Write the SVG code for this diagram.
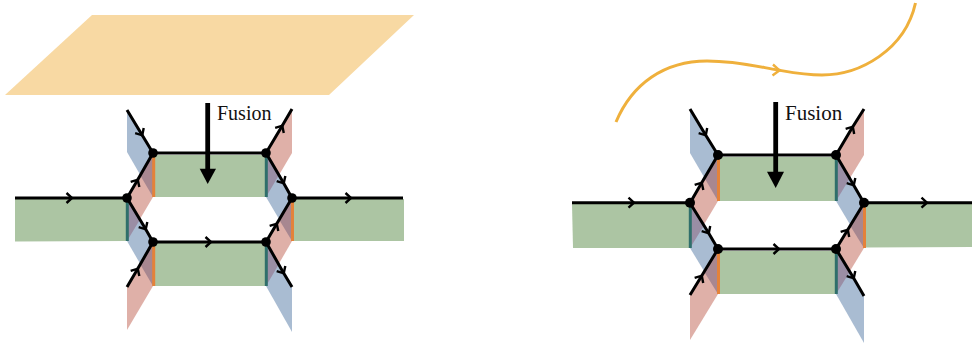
<svg xmlns="http://www.w3.org/2000/svg" width="972" height="344" viewBox="0 0 972 344">
<style>
.g{fill:#acc5a3}
.b{fill:#a9bcd2}
.p{fill:#dfb0a8}
.xp{fill:#a88790}
.xb{fill:#9a8ea5}
.o{stroke:#e4823a;stroke-width:3;fill:none}
.t{stroke:#2f6f6b;stroke-width:3;fill:none}
.e{stroke:#000;stroke-width:3;fill:none;marker-mid:url(#chev)}
.n{fill:#000}
.big{stroke:#000;stroke-width:4.8;fill:none}
.lab{font-family:"Liberation Serif","Times New Roman",serif;fill:#111}
</style>
<defs>
<marker id="chev" viewBox="-7 -7 14 14" markerWidth="14" markerHeight="14" markerUnits="userSpaceOnUse" refX="0" refY="0" orient="auto">
<path d="M-4 -5 L1.500 0 L-4 5" fill="none" stroke="#000" stroke-width="2.400"/>
</marker>
</defs>
<rect width="972" height="344" fill="#fff"/>
<g id="fusion-plane"><polygon points="92,15 414,15 329,95 5,95" fill="#f8d9a3"/></g>
<path id="fusion-line" d="M616 122 C632 84 664 61 707 61 C735 61 755 66 778 70 C795 73 805 75 822 75 C860 75 905 50 915.500 3" fill="none" stroke="#efb03c" stroke-width="3"/>
<path d="M773 64.500 L779.500 70.300 L772.500 75.500" fill="none" stroke="#efb03c" stroke-width="2.400"/>

<g id="left-web">
<polygon class="g" points="15,199 127,199 127,241 15,241.500"/>
<polygon class="g" points="153,155 266,155 266,197 153,197"/>
<polygon class="g" points="153,243 266,243 266,286 153,286"/>
<polygon class="g" points="292,199 404,199 404,241 292,241"/>
<polygon class="b" points="127,110 153,153 153,197 127,152"/>
<polygon class="p" points="127,198 153,153 153,197 127,241"/>
<polygon class="xp" points="153,153 153,197 140,175"/>
<polygon class="b" points="127,198 153,242 153,286 127,241"/>
<polygon class="xb" points="127,198 127,241 140,219.500"/>
<polygon class="p" points="127,287 153,242 153,286 127,330"/>
<polygon class="xp" points="153,242 153,286 140,264"/>
<polygon class="p" points="292,109 266,153 266,197 292,153"/>
<polygon class="b" points="266,153 292,198 292,241 266,197"/>
<polygon class="xb" points="266,153 266,197 279,175"/>
<polygon class="p" points="292,198 266,242 266,286 292,241"/>
<polygon class="xp" points="292,198 292,241 279,219.500"/>
<polygon class="b" points="266,242 292,287 292,332 266,286"/>
<polygon class="xb" points="266,242 266,286 279,264"/>
<path class="o" d="M153.700 155V197M153.700 243V286M292.500 199V241"/>
<path class="t" d="M127.300 199V241M266.300 155V197M266.300 243V286"/>
</g>
<g id="left-connectors">
<polyline class="e" points="15,198 70.500,198 127,198"/>
<polyline class="e" points="292,198 349.500,198 403,198"/>
<polyline class="e" points="153,242 209.500,242 266,242"/>
<polyline class="e" points="153,153 266,153"/>
<polyline class="e" points="127,110 141.500,134 153,153"/>
<polyline class="e" points="266,153 281.500,127 292,109"/>
<polyline class="e" points="127,198 137,181 153,153"/>
<polyline class="e" points="266,153 283,182 292,198"/>
<polyline class="e" points="127,198 145,228 153,242"/>
<polyline class="e" points="266,242 276,225 292,198"/>
<polyline class="e" points="127,287 137,270 153,242"/>
<polyline class="e" points="266,242 283,272 292,287"/>
</g>
<g id="left-vertices">
<circle class="n" cx="153" cy="153" r="4.800"/><circle class="n" cx="266" cy="153" r="4.800"/>
<circle class="n" cx="127" cy="198" r="4.800"/><circle class="n" cx="292" cy="198" r="4.800"/>
<circle class="n" cx="153" cy="242" r="4.800"/><circle class="n" cx="266" cy="242" r="4.800"/>
</g>
<g id="left-fusion">
<path class="big" d="M207.700 103V170"/><polygon class="n" points="199.700,168.700 216,168.700 207.700,184"/>
<text class="lab" x="217" y="120" font-size="20">Fusion</text>
</g>

<g id="right-web">
<polygon class="g" points="572,204 690,204 690,248 573,248"/>
<polygon class="g" points="718,157 836,157 836,201 718,201"/>
<polygon class="g" points="718,251 836,251 836,294 718,294"/>
<polygon class="g" points="864,204 972,204 972,247 864,247.500"/>
<polygon class="b" points="690,109 718,155 718,201 690,153"/>
<polygon class="p" points="690,203 718,155 718,201 690,248"/>
<polygon class="xp" points="718,155 718,201 704.500,178"/>
<polygon class="b" points="690,203 718,249 718,294 690,248"/>
<polygon class="xb" points="690,203 690,248 704,225.500"/>
<polygon class="p" points="690,295 718,249 718,294 690,340"/>
<polygon class="xp" points="718,249 718,294 704,271.500"/>
<polygon class="p" points="864,109 836,155 836,201 864,155"/>
<polygon class="b" points="836,155 864,203 864,248 836,201"/>
<polygon class="xb" points="836,155 836,201 850,178"/>
<polygon class="p" points="864,203 836,249 836,294 864,248"/>
<polygon class="xp" points="864,203 864,248 850,225.500"/>
<polygon class="b" points="836,249 864,296 864,343 836,294"/>
<polygon class="xb" points="836,249 836,294 850,271.500"/>
<path class="o" d="M718.500 157V201M718.500 251V294M864.500 204V248"/>
<path class="t" d="M690.300 204V248M836.300 157V201M836.300 251V294"/>
</g>
<g id="right-connectors">
<polyline class="e" points="572,202.700 632.500,202.700 690,202.700"/>
<polyline class="e" points="864,202.700 925.500,202.700 972,202.700"/>
<polyline class="e" points="718,249 777.500,249 836,249"/>
<polyline class="e" points="718,155 836,155"/>
<polyline class="e" points="690,109 705,134 718,155"/>
<polyline class="e" points="836,155 852,128 864,109"/>
<polyline class="e" points="690,203 701,184 718,155"/>
<polyline class="e" points="836,155 853,184 864,203"/>
<polyline class="e" points="690,203 708,232 718,249"/>
<polyline class="e" points="836,249 847,231 864,203"/>
<polyline class="e" points="690,295 701,277 718,249"/>
<polyline class="e" points="836,249 853,277 864,296"/>
</g>
<g id="right-vertices">
<circle class="n" cx="718" cy="155" r="5"/><circle class="n" cx="836" cy="155" r="5"/>
<circle class="n" cx="690" cy="202.700" r="5"/><circle class="n" cx="864" cy="202.700" r="5"/>
<circle class="n" cx="718" cy="249" r="5"/><circle class="n" cx="836" cy="249" r="5"/>
</g>
<g id="right-fusion">
<path class="big" d="M775.700 102V173"/><polygon class="n" points="767,171.700 784,171.700 775.700,188"/>
<text class="lab" x="785" y="120" font-size="21">Fusion</text>
</g>
</svg>
